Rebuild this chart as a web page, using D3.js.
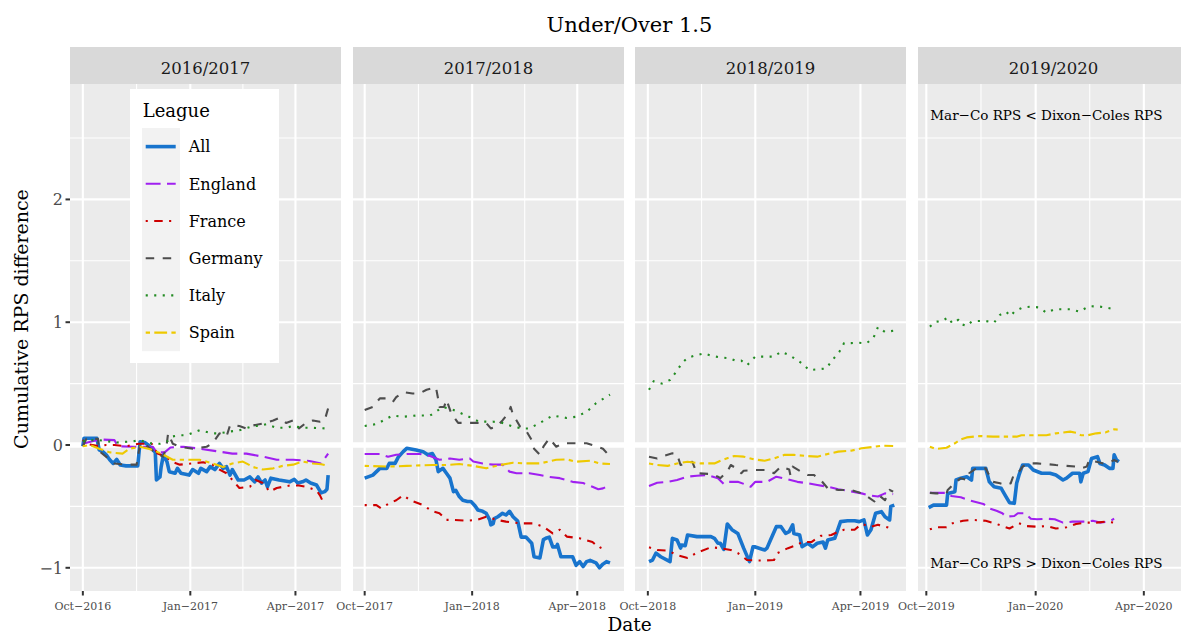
<!DOCTYPE html>
<html><head><meta charset="utf-8">
<script src="https://cdn.jsdelivr.net/npm/d3@7"></script>
<style>body{margin:0;background:#fff}svg{display:block}text{font-family:"DejaVu Serif",serif}</style>
</head><body><svg id="c" width="1181" height="635"></svg>
<script>
// ---------------- DATA ----------------
const seasons = ["2016/2017","2017/2018","2018/2019","2019/2020"];
const seasonStart = ["2016-10-01","2017-10-01","2018-10-01","2019-10-01"];
const leagues = ["All","England","France","Germany","Italy","Spain"];
const yTicks = [-1,0,1,2];
const yMinor = [-0.5,0.5,1.5,2.5];
const xTickDates = [["2016-10-01","2017-01-01","2017-04-01"],["2017-10-01","2018-01-01","2018-04-01"],["2018-10-01","2019-01-01","2019-04-01"],["2019-10-01","2020-01-01","2020-04-01"]];
const xTickLabels = [["Oct−2016","Jan−2017","Apr−2017"],["Oct−2017","Jan−2018","Apr−2018"],["Oct−2018","Jan−2019","Apr−2019"],["Oct−2019","Jan−2020","Apr−2020"]];
const annotations = ["Mar−Co RPS < Dixon−Coles RPS","Mar−Co RPS > Dixon−Coles RPS"];
const annotationValues = [2.65,-1.0];
const annotationDate = "2020-01-10";

// series: [days since season start (1 Oct), cumulative RPS difference]
const all_1617 = [[0,-0.01],[1,0.055],[12,0.055],[14,-0.04],[17,-0.054],[20,-0.08],[23,-0.12],[26,-0.15],[29,-0.117],[32,-0.163],[37,-0.17],[47,-0.17],[49,0.027],[53,0.02],[56,0],[59,-0.03],[62,-0.06],[63,-0.285],[66,-0.26],[67,-0.18],[69,-0.08],[72,-0.136],[74,-0.217],[79,-0.23],[81,-0.19],[84,-0.23],[91,-0.245],[94,-0.2],[99,-0.23],[101,-0.19],[106,-0.217],[109,-0.176],[113,-0.2],[117,-0.15],[120,-0.19],[123,-0.176],[126,-0.245],[128,-0.2],[133,-0.285],[138,-0.285],[143,-0.26],[147,-0.3],[150,-0.26],[153,-0.31],[156,-0.285],[158,-0.34],[161,-0.27],[168,-0.285],[177,-0.3],[181,-0.28],[184,-0.31],[188,-0.3],[191,-0.285],[195,-0.31],[200,-0.326],[204,-0.39],[207,-0.38],[209,-0.36],[210,-0.245]];
const eng_1617 = [[0,0.01],[8,0.03],[16,0.045],[27,0.04],[30,-0.01],[43,-0.014],[60,-0.014],[63,-0.06],[70,-0.06],[75,-0.02],[86,-0.014],[100,-0.03],[114,-0.05],[128,-0.07],[140,-0.07],[154,-0.095],[166,-0.12],[180,-0.12],[194,-0.13],[204,-0.15],[210,-0.07]];
const fra_1617 = [[0,0.04],[3,0.01],[14,-0.01],[20,0],[27,0],[37,-0.01],[48,0.01],[59,0.01],[64,-0.07],[71,-0.095],[77,-0.14],[83,-0.16],[94,-0.15],[103,-0.14],[111,-0.16],[117,-0.2],[123,-0.23],[128,-0.285],[134,-0.35],[143,-0.34],[148,-0.285],[154,-0.31],[160,-0.38],[166,-0.35],[177,-0.33],[185,-0.33],[191,-0.34],[200,-0.37],[203,-0.41],[205,-0.45],[207,-0.45]];
const ger_1617 = [[0,-0.01],[3,0.05],[13,0.05],[14,-0.05],[23,-0.12],[27,-0.15],[36,-0.16],[46,-0.16],[49,0.01],[54,0],[63,-0.07],[69,-0.095],[72,0.02],[73,0.095],[77,0.01],[83,-0.014],[94,-0.03],[106,-0.014],[111,0.014],[117,0.095],[123,0.07],[126,0.16],[134,0.155],[140,0.135],[146,0.16],[157,0.18],[163,0.2],[168,0.22],[174,0.18],[180,0.2],[185,0.135],[191,0.18],[197,0.2],[203,0.19],[207,0.2],[210,0.3]];
const ita_1617 = [[0,0.03],[9,0.04],[14,0.04],[29,0.02],[43,0.03],[49,0.04],[57,0.014],[66,0.01],[71,0.02],[77,0.07],[83,0.08],[89,0.08],[100,0.12],[111,0.095],[117,0.095],[126,0.11],[134,0.12],[146,0.155],[151,0.155],[157,0.17],[166,0.14],[174,0.14],[180,0.155],[188,0.14],[197,0.14],[207,0.135]];
const spa_1617 = [[0,-0.01],[6,0],[14,-0.03],[23,-0.06],[34,-0.07],[40,-0.03],[49,-0.014],[60,-0.04],[69,-0.08],[77,-0.12],[89,-0.12],[100,-0.12],[111,-0.15],[120,-0.18],[128,-0.15],[137,-0.135],[146,-0.18],[154,-0.2],[163,-0.19],[171,-0.17],[180,-0.16],[188,-0.135],[197,-0.15],[204,-0.157],[210,-0.17]];

const all_1718 = [[0,-0.27],[7,-0.245],[13,-0.19],[19,-0.19],[21,-0.15],[26,-0.15],[29,-0.095],[33,-0.054],[36,-0.027],[44,-0.04],[50,-0.054],[54,-0.08],[58,-0.07],[61,-0.12],[63,-0.217],[67,-0.19],[70,-0.23],[73,-0.27],[76,-0.38],[78,-0.37],[81,-0.42],[84,-0.45],[88,-0.46],[91,-0.46],[94,-0.49],[97,-0.53],[101,-0.54],[104,-0.556],[107,-0.61],[108,-0.65],[110,-0.64],[111,-0.6],[114,-0.584],[118,-0.556],[121,-0.57],[124,-0.54],[127,-0.584],[131,-0.62],[134,-0.75],[138,-0.75],[143,-0.8],[145,-0.91],[150,-0.92],[153,-0.77],[155,-0.76],[158,-0.75],[161,-0.83],[164,-0.83],[165,-0.81],[168,-0.91],[178,-0.91],[181,-0.98],[184,-0.95],[187,-0.99],[190,-0.95],[193,-0.94],[198,-0.96],[201,-1.0],[204,-0.97],[207,-0.95],[210,-0.96]];
const eng_1718 = [[0,-0.073],[13,-0.073],[20,-0.095],[27,-0.08],[36,-0.073],[47,-0.073],[56,-0.09],[64,-0.12],[73,-0.11],[81,-0.12],[90,-0.11],[93,-0.135],[101,-0.15],[110,-0.16],[118,-0.16],[124,-0.217],[130,-0.23],[141,-0.23],[150,-0.244],[158,-0.26],[167,-0.27],[178,-0.3],[187,-0.31],[195,-0.34],[200,-0.36],[204,-0.353],[210,-0.326]];
const fra_1718 = [[0,-0.49],[10,-0.49],[14,-0.516],[21,-0.475],[27,-0.45],[33,-0.41],[39,-0.45],[50,-0.49],[58,-0.54],[64,-0.556],[70,-0.61],[76,-0.61],[87,-0.617],[96,-0.61],[104,-0.584],[113,-0.61],[121,-0.624],[133,-0.638],[144,-0.638],[153,-0.665],[161,-0.72],[167,-0.69],[173,-0.746],[184,-0.76],[195,-0.79],[201,-0.84],[207,-0.81]];
const ger_1718 = [[0,0.285],[7,0.31],[13,0.38],[19,0.38],[24,0.35],[27,0.39],[33,0.43],[41,0.42],[47,0.42],[53,0.45],[61,0.47],[63,0.37],[64,0.31],[68,0.31],[70,0.37],[74,0.26],[80,0.18],[96,0.18],[104,0.18],[108,0.135],[113,0.15],[118,0.2],[123,0.26],[125,0.31],[127,0.245],[130,0.2],[133,0.15],[138,0.12],[143,0.04],[145,-0.03],[150,-0.08],[153,-0.014],[158,0.054],[164,-0.014],[170,0.014],[178,0.014],[190,0.014],[195,0],[204,-0.03],[210,-0.095]];
const ita_1718 = [[0,0.155],[10,0.17],[24,0.24],[33,0.23],[44,0.24],[56,0.24],[67,0.31],[76,0.285],[87,0.24],[98,0.19],[110,0.19],[118,0.18],[127,0.15],[135,0.135],[141,0.135],[150,0.18],[161,0.24],[173,0.22],[181,0.23],[190,0.27],[198,0.34],[210,0.41]];
const spa_1718 = [[0,-0.17],[21,-0.176],[36,-0.17],[58,-0.163],[70,-0.163],[81,-0.155],[93,-0.17],[104,-0.19],[116,-0.163],[127,-0.144],[138,-0.15],[150,-0.15],[164,-0.12],[173,-0.117],[181,-0.136],[193,-0.128],[201,-0.15],[210,-0.155]];

const all_1819 = [[1,-0.95],[4,-0.937],[7,-0.88],[11,-0.91],[19,-0.95],[21,-0.76],[25,-0.774],[28,-0.84],[29,-0.814],[32,-0.82],[34,-0.733],[42,-0.746],[54,-0.746],[57,-0.76],[60,-0.8],[62,-0.8],[65,-0.85],[68,-0.643],[72,-0.69],[77,-0.72],[82,-0.84],[87,-0.95],[90,-0.83],[92,-0.83],[100,-0.855],[102,-0.84],[105,-0.774],[110,-0.665],[114,-0.665],[118,-0.72],[121,-0.706],[124,-0.65],[125,-0.72],[130,-0.733],[132,-0.828],[137,-0.8],[141,-0.83],[145,-0.8],[150,-0.79],[152,-0.84],[154,-0.774],[160,-0.76],[165,-0.624],[171,-0.617],[177,-0.617],[181,-0.624],[185,-0.61],[188,-0.733],[191,-0.69],[195,-0.556],[200,-0.543],[203,-0.584],[207,-0.61],[208,-0.5],[211,-0.49]];
const eng_1819 = [[1,-0.334],[8,-0.307],[17,-0.3],[25,-0.285],[34,-0.258],[42,-0.25],[51,-0.244],[60,-0.27],[65,-0.318],[68,-0.3],[77,-0.3],[85,-0.326],[88,-0.34],[92,-0.3],[102,-0.3],[110,-0.258],[120,-0.28],[128,-0.3],[137,-0.312],[145,-0.326],[154,-0.34],[163,-0.36],[171,-0.372],[183,-0.394],[188,-0.407],[197,-0.42],[203,-0.394],[210,-0.4]];
const fra_1819 = [[1,-0.833],[8,-0.855],[17,-0.86],[25,-0.896],[34,-0.92],[42,-0.877],[54,-0.833],[62,-0.84],[71,-0.855],[77,-0.88],[85,-0.937],[94,-0.94],[102,-0.94],[108,-0.937],[111,-0.88],[120,-0.84],[128,-0.814],[132,-0.79],[140,-0.79],[148,-0.74],[157,-0.733],[163,-0.706],[168,-0.69],[177,-0.69],[183,-0.643],[191,-0.665],[197,-0.65],[203,-0.665],[211,-0.687]];
const ger_1819 = [[1,-0.095],[8,-0.11],[14,-0.087],[21,-0.068],[25,-0.073],[28,-0.163],[32,-0.15],[38,-0.136],[42,-0.23],[54,-0.236],[60,-0.258],[62,-0.27],[68,-0.217],[71,-0.163],[77,-0.198],[80,-0.23],[82,-0.21],[91,-0.204],[102,-0.204],[108,-0.23],[114,-0.176],[121,-0.2],[122,-0.244],[124,-0.176],[131,-0.217],[137,-0.244],[142,-0.244],[148,-0.285],[154,-0.353],[163,-0.366],[174,-0.366],[183,-0.394],[188,-0.42],[194,-0.46],[198,-0.41],[203,-0.45],[207,-0.366],[210,-0.38]];
const ita_1819 = [[1,0.45],[5,0.52],[12,0.5],[19,0.53],[25,0.605],[29,0.665],[34,0.71],[41,0.73],[48,0.746],[55,0.725],[62,0.714],[70,0.706],[75,0.687],[80,0.687],[85,0.65],[92,0.72],[101,0.72],[108,0.72],[114,0.76],[121,0.733],[128,0.69],[132,0.665],[138,0.61],[145,0.616],[153,0.624],[157,0.68],[164,0.76],[168,0.83],[174,0.83],[180,0.833],[187,0.828],[193,0.87],[197,0.96],[203,0.92],[210,0.93]];
const spa_1819 = [[1,-0.15],[8,-0.163],[17,-0.17],[25,-0.15],[34,-0.136],[45,-0.15],[57,-0.15],[65,-0.117],[74,-0.09],[82,-0.095],[91,-0.117],[100,-0.128],[108,-0.11],[117,-0.08],[125,-0.08],[137,-0.09],[145,-0.095],[154,-0.073],[163,-0.054],[174,-0.046],[183,-0.027],[194,-0.014],[201,-0.005],[210,-0.008]];

const all_1920 = [[2,-0.51],[6,-0.49],[17,-0.49],[18,-0.394],[24,-0.38],[25,-0.285],[29,-0.27],[34,-0.258],[38,-0.285],[39,-0.19],[50,-0.19],[53,-0.3],[57,-0.34],[63,-0.353],[67,-0.42],[70,-0.47],[74,-0.475],[76,-0.312],[78,-0.244],[81,-0.163],[86,-0.163],[90,-0.204],[97,-0.23],[104,-0.23],[109,-0.244],[115,-0.285],[118,-0.27],[123,-0.23],[129,-0.23],[130,-0.3],[132,-0.23],[136,-0.217],[139,-0.11],[144,-0.095],[146,-0.15],[150,-0.163],[154,-0.19],[157,-0.19],[158,-0.08],[160,-0.122],[162,-0.136]];
const eng_1920 = [[3,-0.39],[17,-0.39],[21,-0.415],[29,-0.426],[36,-0.45],[48,-0.48],[53,-0.516],[59,-0.535],[64,-0.556],[67,-0.584],[74,-0.578],[77,-0.556],[83,-0.556],[88,-0.6],[93,-0.605],[101,-0.6],[108,-0.605],[115,-0.632],[123,-0.624],[132,-0.624],[140,-0.617],[146,-0.632],[154,-0.624],[158,-0.6]];
const fra_1920 = [[3,-0.687],[8,-0.67],[17,-0.67],[22,-0.638],[31,-0.617],[39,-0.61],[50,-0.617],[59,-0.643],[64,-0.66],[70,-0.68],[78,-0.638],[84,-0.66],[93,-0.665],[101,-0.66],[109,-0.68],[118,-0.67],[126,-0.643],[135,-0.632],[143,-0.632],[151,-0.624],[158,-0.632]];
const ger_1920 = [[3,-0.39],[8,-0.394],[17,-0.394],[18,-0.366],[25,-0.3],[29,-0.27],[34,-0.285],[36,-0.23],[42,-0.19],[50,-0.19],[52,-0.23],[56,-0.3],[62,-0.312],[67,-0.326],[71,-0.312],[74,-0.23],[78,-0.217],[81,-0.176],[86,-0.15],[93,-0.15],[101,-0.155],[109,-0.163],[118,-0.17],[126,-0.176],[130,-0.19],[135,-0.176],[137,-0.122],[143,-0.136],[149,-0.15],[154,-0.144],[158,-0.122],[161,-0.136]];
const ita_1920 = [[3,0.964],[8,1.004],[14,1.01],[18,1.04],[22,0.99],[27,1.02],[29,0.985],[34,0.97],[38,1.004],[43,1.01],[50,1.01],[57,0.996],[62,1.06],[67,1.086],[71,1.05],[74,1.086],[81,1.12],[88,1.127],[95,1.12],[101,1.078],[108,1.105],[115,1.105],[122,1.105],[129,1.086],[135,1.12],[139,1.13],[146,1.127],[151,1.12],[158,1.105]];
const spa_1920 = [[3,-0.014],[8,-0.033],[17,-0.022],[24,0.014],[29,0.046],[34,0.062],[45,0.073],[56,0.068],[67,0.068],[76,0.068],[80,0.08],[90,0.08],[101,0.08],[109,0.095],[121,0.109],[126,0.1],[130,0.08],[136,0.08],[143,0.095],[151,0.103],[158,0.128],[161,0.125]];

const seriesBySeason = [
  [all_1617, eng_1617, fra_1617, ger_1617, ita_1617, spa_1617],
  [all_1718, eng_1718, fra_1718, ger_1718, ita_1718, spa_1718],
  [all_1819, eng_1819, fra_1819, ger_1819, ita_1819, spa_1819],
  [all_1920, eng_1920, fra_1920, ger_1920, ita_1920, spa_1920]
];

// ---------------- STYLE / LAYOUT ----------------
const colors = ["#1874CD","#A020F0","#CD0000","#4D4D4D","#228B22","#EEC900"];
const widths = [3.6,2.1,2.1,2.1,2.1,2.1];
const dashes = [null,"14.9,6.4","2.1,6.4,8.5,6.4","8.5,8.5","2.1,6.4","4.3,4.3,12.8,4.3"];
const panelLeft = [70,353,635,918], panelW = 271, panelTop = 84, panelBottom = 591, stripTop = 47;
const xDomains = [["2016-09-20","2017-05-10"],["2017-09-21","2018-05-11"],["2018-09-20","2019-05-10"],["2019-09-24","2020-05-09"]];

const svg = d3.select("#c");
const parse = s => new Date(s + "T00:00:00Z");
const y = d3.scaleLinear().domain([-1.189, 2.94]).range([panelBottom, panelTop]);

// title
svg.append("text").attr("x", (panelLeft[0] + panelLeft[3] + panelW) / 2).attr("y", 31.5)
  .attr("text-anchor","middle").attr("font-size",21).attr("fill","#000").text("Under/Over 1.5");

// y axis (left only)
const yAxisG = svg.append("g");
yTicks.forEach(t => {
  yAxisG.append("line").attr("x1", panelLeft[0]-4.5).attr("x2", panelLeft[0]).attr("y1", y(t)).attr("y2", y(t))
    .attr("stroke","#333").attr("stroke-width",2);
  yAxisG.append("text").attr("x", panelLeft[0]-7).attr("y", y(t)).attr("dy","0.36em")
    .attr("text-anchor","end").attr("font-size",16).attr("fill","#4D4D4D").text(d3.format("")(t).replace("-","−"));
});
svg.append("text").attr("transform",`translate(28,${(stripTop+panelBottom)/2}) rotate(-90)`)
  .attr("text-anchor","middle").attr("font-size",19).attr("fill","#000").text("Cumulative RPS difference");
svg.append("text").attr("x",(panelLeft[0] + panelLeft[3] + panelW) / 2).attr("y",630.5)
  .attr("text-anchor","middle").attr("font-size",18.5).attr("fill","#000").text("Date");

seasons.forEach((season, i) => {
  const L = panelLeft[i];
  const x = d3.scaleUtc().domain(xDomains[i].map(parse)).range([L, L + panelW]);
  const g = svg.append("g");
  const cid = "clip" + i;
  svg.append("clipPath").attr("id", cid).append("rect").attr("x", L).attr("y", panelTop).attr("width", panelW).attr("height", panelBottom - panelTop);
  // strip
  g.append("rect").attr("x", L).attr("y", stripTop).attr("width", panelW).attr("height", panelTop - stripTop).attr("fill","#D9D9D9");
  g.append("text").attr("x", L + panelW/2).attr("y", 74).attr("text-anchor","middle").attr("font-size",16.5).attr("fill","#1A1A1A").text(season);
  // panel bg
  g.append("rect").attr("x", L).attr("y", panelTop).attr("width", panelW).attr("height", panelBottom - panelTop).attr("fill","#EBEBEB");
  const grid = g.append("g").attr("clip-path", `url(#${cid})`);
  yMinor.forEach(t => grid.append("line").attr("x1",L).attr("x2",L+panelW).attr("y1",y(t)).attr("y2",y(t)).attr("stroke","#fff").attr("stroke-width",1.07));
  const tickD = xTickDates[i].map(parse);
  const minorD = [];
  for (let k = 0; k < tickD.length - 1; k++) minorD.push(new Date((+tickD[k] + +tickD[k+1]) / 2));
  minorD.forEach(d => grid.append("line").attr("x1",x(d)).attr("x2",x(d)).attr("y1",panelTop).attr("y2",panelBottom).attr("stroke","#fff").attr("stroke-width",1.07));
  yTicks.forEach(t => grid.append("line").attr("x1",L).attr("x2",L+panelW).attr("y1",y(t)).attr("y2",y(t)).attr("stroke","#fff").attr("stroke-width",2.1));
  tickD.forEach(d => grid.append("line").attr("x1",x(d)).attr("x2",x(d)).attr("y1",panelTop).attr("y2",panelBottom).attr("stroke","#fff").attr("stroke-width",2.1));
  grid.append("line").attr("x1",L).attr("x2",L+panelW).attr("y1",y(0)).attr("y2",y(0)).attr("stroke","#fff").attr("stroke-width",5.5);
  tickD.forEach((d, k) => {
    g.append("line").attr("x1",x(d)).attr("x2",x(d)).attr("y1",panelBottom).attr("y2",panelBottom+4.5).attr("stroke","#333").attr("stroke-width",2);
    g.append("text").attr("x",x(d)).attr("y",609.5).attr("text-anchor","middle").attr("font-size",11).attr("fill","#4D4D4D").text(xTickLabels[i][k]);
  });
  const start = parse(seasonStart[i]);
  const line = d3.line().x(p => x(new Date(+start + p[0]*864e5))).y(p => y(p[1]));
  const lg = g.append("g").attr("clip-path", `url(#${cid})`);
  seriesBySeason[i].forEach((s, j) => {
    lg.append("path").attr("d", line(s)).attr("fill","none").attr("stroke",colors[j])
      .attr("stroke-width",widths[j]).attr("stroke-dasharray",dashes[j]).attr("stroke-linejoin","round");
  });
  if (i === 3) {
    annotations.forEach((a, k) => {
      g.append("text").attr("x", x(parse(annotationDate))).attr("y", y(annotationValues[k]))
        .attr("text-anchor","middle").attr("font-size",13.5).attr("fill","#000").text(a);
    });
  }
});

// legend
const lgd = svg.append("g");
lgd.append("rect").attr("x",130).attr("y",89).attr("width",149).attr("height",274).attr("fill","#fff");
lgd.append("text").attr("x",142.7).attr("y",117.3).attr("font-size",18).attr("fill","#000").text("League");
const keyTop = 128, keyH = 37.2;
lgd.append("rect").attr("x",142).attr("y",keyTop).attr("width",38).attr("height",keyH*leagues.length).attr("fill","#F2F2F2");
leagues.forEach((name, j) => {
  const cy = keyTop + keyH*j + keyH/2;
  lgd.append("line").attr("x1",145.7).attr("x2",175.7).attr("y1",cy).attr("y2",cy).attr("stroke",colors[j])
    .attr("stroke-width",widths[j]).attr("stroke-dasharray",dashes[j]);
  lgd.append("text").attr("x",188.7).attr("y",cy).attr("dy","0.36em").attr("font-size",16).attr("fill","#000").text(name);
});
</script></body></html>
